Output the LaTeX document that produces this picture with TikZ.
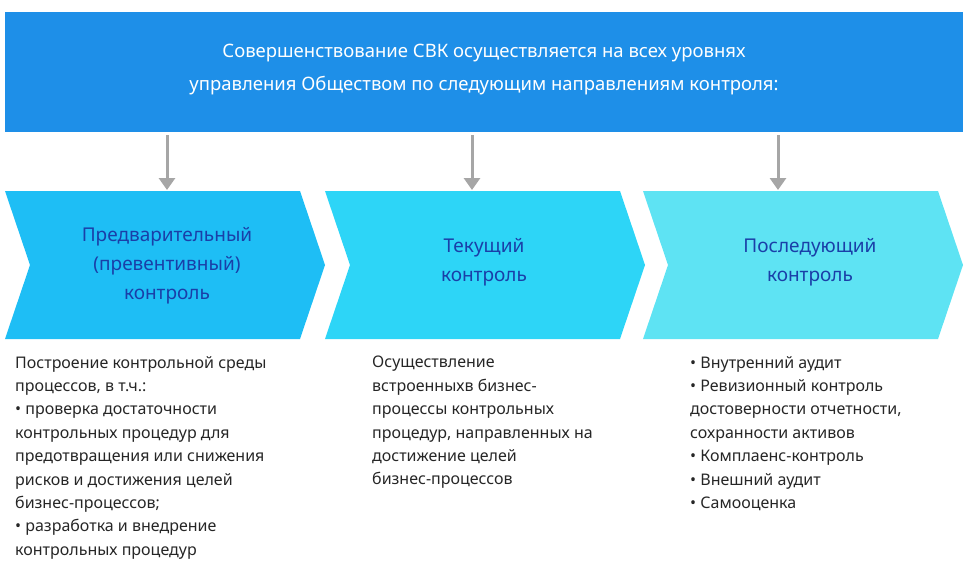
\documentclass[tikz,border=0pt]{standalone}
\usepackage{fontspec}
\setmainfont{Noto Sans}
\usetikzlibrary{arrows.meta}
\definecolor{banner}{HTML}{1E8FE8}
\definecolor{chevA}{HTML}{1EBEF5}
\definecolor{chevB}{HTML}{2DD5F7}
\definecolor{chevC}{HTML}{5EE3F3}
\definecolor{ink}{HTML}{1A3FA8}
\definecolor{arrowgray}{HTML}{A6A6A6}
\tikzset{
  chevtext/.style={text=ink, align=center, font=\fontsize{19}{29}\selectfont},
  bodytext/.style={anchor=north west, align=left, inner sep=0pt, text=black!85,
    font=\fontsize{16}{23.4}\selectfont},
  down/.style={draw=arrowgray, line width=3pt, -{Triangle[length=12pt,width=16pt]}}
}
\begin{document}
\begin{tikzpicture}[x=1pt,y=-1pt]
  \useasboundingbox (0,0) rectangle (967,576);
  % banner
  \fill[banner] (5,12) rectangle (963,132);
  \node[text=white, align=center, font=\fontsize{18.5}{33}\selectfont] (head) at (484,70)
    {Совершенствование СВК осуществляется на всех уровнях\\управления Обществом по следующим направлениям контроля:};
  % chevrons
  \foreach \x/\c in {5/chevA, 325/chevB, 643/chevC}{
    \fill[\c] (\x,191) -- (\x+295,191) -- (\x+320,265) -- (\x+295,339)
      -- (\x,339) -- (\x+25,265) -- cycle;
  }
  \node[chevtext] (pre) at (167,266) {Предварительный\\(превентивный)\\контроль};
  \node[chevtext] (cur) at (484,262) {Текущий\\контроль};
  \node[chevtext] (post) at (810,262) {Последующий\\контроль};
  % arrows
  \draw[down] (167,135) -- (167,190);
  \draw[down] (472,135) -- (472,190);
  \draw[down] (778,135) -- (778,190);
  % descriptions
  \node[bodytext] (dpre) at (15,356) {Построение контрольной среды\\процессов, в т.ч.:\\• проверка достаточности\\контрольных процедур для\\предотвращения или снижения\\рисков и достижения целей\\бизнес-процессов;\\• разработка и внедрение\\контрольных процедур};
  \node[bodytext] (dcur) at (372,356) {Осуществление\\встроенныхв бизнес-\\процессы контрольных\\процедур, направленных на\\достижение целей\\бизнес-процессов};
  \node[bodytext] (dpost) at (690,356) {• Внутренний аудит\\• Ревизионный контроль\\достоверности отчетности,\\сохранности активов\\• Комплаенс-контроль\\• Внешний аудит\\• Самооценка};
\end{tikzpicture}
\end{document}
